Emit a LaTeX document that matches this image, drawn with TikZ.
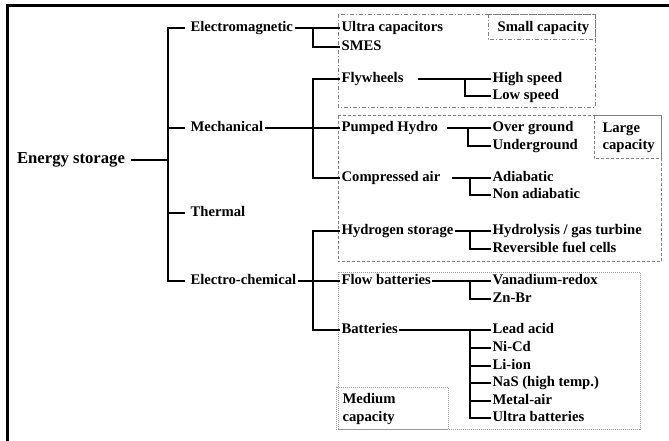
\documentclass[tikz,border=0pt]{standalone}
\usepackage{fontspec}
\setmainfont{Liberation Serif}
\begin{document}
\begin{tikzpicture}[x=0.75pt,y=-0.75pt,
  lbl/.style={anchor=west,inner xsep=1pt,inner ysep=0pt,font=\bfseries\fontsize{11}{13}\selectfont,text height=7.5pt,text depth=2pt},
  big/.style={lbl,font=\bfseries\fontsize{12.5}{14}\selectfont,text height=8.5pt,text depth=2.5pt},
  con/.style={line width=1.8pt},
  smallst/.style={draw=gray,line width=0.6pt,dash pattern=on 3pt off 1.5pt on 0.75pt off 1.5pt},
  largest/.style={draw=gray,line width=0.75pt,dash pattern=on 2.25pt off 1.5pt},
  medst/.style={draw=gray!80,line width=0.5pt,dash pattern=on 0.75pt off 0.75pt}]
\useasboundingbox (0,0) rectangle (669,441);
% frame
\draw[line width=2.25pt] (7.5,441) -- (7.5,5.5) -- (669,5.5);
% capacity boxes
\draw[smallst] (338,14) rectangle (595,107);
\draw[smallst] (488,14) rectangle (595,39);
\draw[largest] (338,116) rectangle (661,262);
\draw[largest] (594,116) rectangle (661,159);
\draw[medst] (338,272) rectangle (640,429);
\draw[medst] (336,387) rectangle (448,429);
\node[lbl] (smalllab) at (496,28) {Small capacity};
\node[lbl] (large1) at (601,129) {Large};
\node[lbl] (large2) at (601,146) {capacity};
\node[lbl] (med1) at (341,400) {Medium};
\node[lbl] (med2) at (341,418) {capacity};
% vertical rails
\coordinate (v0) at (168,0);
\coordinate (v1) at (313,0);
\coordinate (vf) at (465,0);
\coordinate (vp) at (468,0);
\coordinate (vc) at (470,0);
% level 0/1
\node[big] (es) at (15.5,160) {Energy storage};
\node[lbl] (em) at (189,28) {Electromagnetic};
\node[lbl] (mech) at (189,128) {Mechanical};
\node[lbl] (therm) at (189,213) {Thermal};
\node[lbl] (ec) at (189,281) {Electro-chemical};
% level 2
\node[lbl] (uc) at (340,28) {Ultra capacitors};
\node[lbl] (smes) at (340,47) {SMES};
\node[lbl] (fw) at (340,79) {Flywheels};
\node[lbl] (ph) at (340,128) {Pumped Hydro};
\node[lbl] (ca) at (340,178) {Compressed air};
\node[lbl] (hs) at (340,231) {Hydrogen storage};
\node[lbl] (fb) at (340,281) {Flow batteries};
\node[lbl] (bat) at (340,330) {Batteries};
% level 3
\node[lbl] (hsp) at (491,79) {High speed};
\node[lbl] (lsp) at (491,96) {Low speed};
\node[lbl] (og) at (491,128) {Over ground};
\node[lbl] (ug) at (491,146) {Underground};
\node[lbl] (adi) at (491,178) {Adiabatic};
\node[lbl] (nadi) at (491,195) {Non adiabatic};
\node[lbl] (hyd) at (491,231) {Hydrolysis / gas turbine};
\node[lbl] (rfc) at (491,249) {Reversible fuel cells};
\node[lbl] (vr) at (491,281) {Vanadium-redox};
\node[lbl] (znbr) at (491,299) {Zn-Br};
\node[lbl] (la) at (491,330) {Lead acid};
\node[lbl] (nicd) at (491,348) {Ni-Cd};
\node[lbl] (liion) at (491,366) {Li-ion};
\node[lbl] (nas) at (491,383) {NaS (high temp.)};
\node[lbl] (ma) at (491,401) {Metal-air};
\node[lbl] (ub) at (491,418) {Ultra batteries};
% connectors level 0
\draw[con,shorten <=3pt] (es.east) -- (es.east -| v0);
\draw[con,shorten <=3pt,shorten >=3pt] (em.west) -| (v0 |- ec.west) -- (ec.west);
\draw[con,shorten >=3pt] (mech.west -| v0) -- (mech.west);
\draw[con,shorten >=3pt] (therm.west -| v0) -- (therm.west);
% connectors level 1
\draw[con] (em.east) -- (uc.west);
\draw[con] (em.east -| v1) |- (smes.west);
\draw[con] (mech.east) -- (ph.west);
\draw[con] (fw.west) -| (v1 |- ca.west) -- (ca.west);
\draw[con] (ec.east) -- (fb.west);
\draw[con] (hs.west) -| (v1 |- bat.west) -- (bat.west);
% connectors level 2
\draw[con,shorten <=9.75pt] (fw.east) -- (hsp.west);
\draw[con] (fw.east -| vf) |- (lsp.west);
\draw[con,shorten <=5.25pt] (ph.east) -- (og.west);
\draw[con] (ph.east -| vp) |- (ug.west);
\draw[con,shorten <=7.5pt] (ca.east) -- (adi.west);
\draw[con] (ca.east -| vc) |- (nadi.west);
\draw[con] (hs.east) -- (hyd.west);
\draw[con] (hs.east -| vc) |- (rfc.west);
\draw[con] (fb.east) -- (vr.west);
\draw[con] (fb.east -| vc) |- (znbr.west);
\draw[con] (bat.east) -- (la.west);
\draw[con] (bat.east -| vc) |- (ub.west);
\foreach \n in {nicd,liion,nas,ma} \draw[con] (\n.west -| vc) -- (\n.west);
\end{tikzpicture}
\end{document}
